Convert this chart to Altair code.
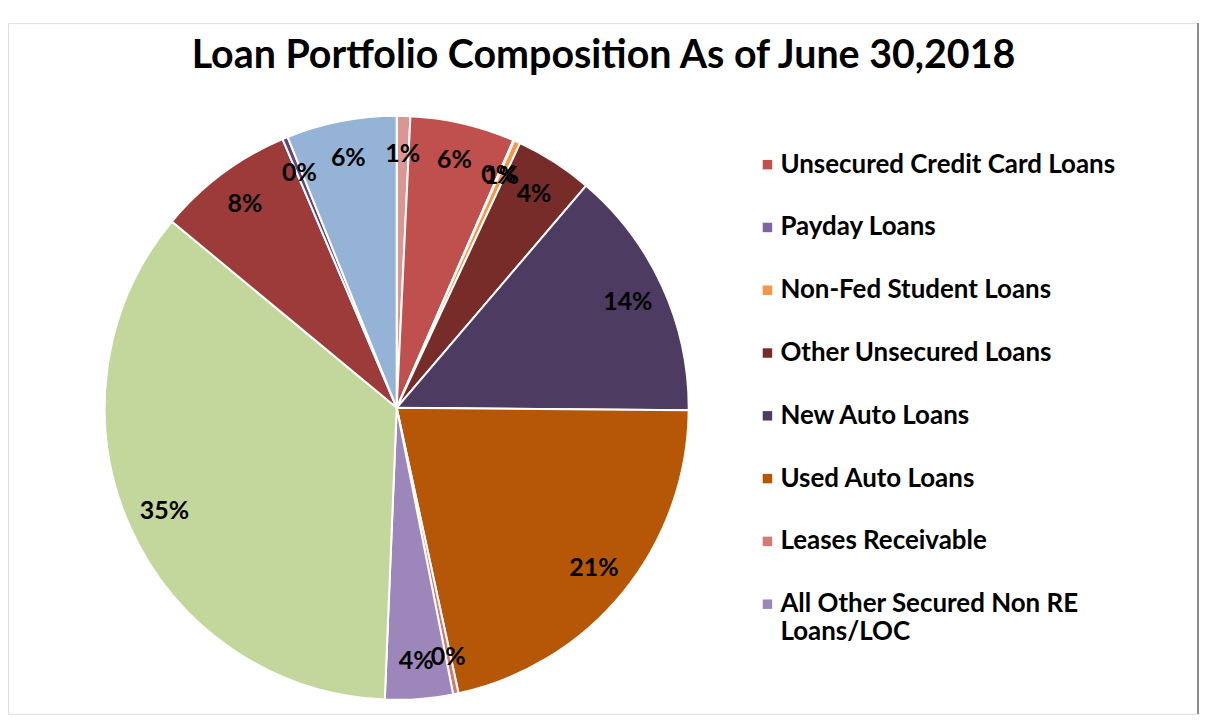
import altair as alt
import pandas as pd

# Slices, clockwise from 12 o'clock
categories = [
    "Commercial Non RE Loans/LOC",
    "Unsecured Credit Card Loans",
    "Payday Loans",
    "Non-Fed Student Loans",
    "Other Unsecured Loans",
    "New Auto Loans",
    "Used Auto Loans",
    "Leases Receivable",
    "All Other Secured Non RE Loans/LOC",
    "1st Mortgage RE Loans/LOC",
    "Other RE Loans/LOC",
    "Other Non-Commercial RE Loans",
    "Commercial RE Loans/LOC",
]
shares = [0.75, 5.8, 0.05, 0.35, 4.3, 13.9, 21.5, 0.3, 3.75, 35.4, 7.6, 0.3, 6.1]
pct_labels = ["1%", "6%", "0%", "1%", "4%", "14%", "21%", "0%", "4%", "35%", "8%", "0%", "6%"]
colors = [
    "#D99694", "#C0504D", "#8064A2", "#F79646", "#772C2A", "#4D3B62",
    "#B65708", "#D27A77", "#9D87BA", "#C3D69B", "#9C3B39", "#60497A", "#95B3D7",
]
legend_shown = categories[1:9]

df = pd.DataFrame({
    "category": categories,
    "share": shares,
    "label": pct_labels,
    "idx": list(range(len(categories))),
})

CX, CY, R = 390, 386, 293
FONT = "Lato"

color = alt.Color(
    "category:N",
    scale=alt.Scale(domain=categories, range=colors),
    legend=alt.Legend(
        values=legend_shown,
        title=None,
        orient="none",
        legendX=749,
        legendY=129,
        padding=0,
        symbolType="square",
        symbolSize=90,
        symbolStrokeWidth=0,
        labelFont=FONT,
        labelFontSize=26,
        labelFontWeight="bold",
        labelColor="black",
        labelOffset=0,
        labelLimit=500,
        rowPadding=37,
        labelExpr="datum.label == 'All Other Secured Non RE Loans/LOC' ? ['All Other Secured Non RE', 'Loans/LOC'] : datum.label",
    ),
)

base = alt.Chart(df).encode(
    theta=alt.Theta("share:Q", stack=True),
    order=alt.Order("idx:Q"),
)

pie = base.mark_arc(radius=R, x=CX, y=CY, stroke="white", strokeWidth=2).encode(color=color)

text = base.mark_text(
    radius=255, x=CX, y=CY, font=FONT, fontSize=25, fontWeight="bold", color="black"
).encode(text="label:N", detail="category:N")

edge = alt.Chart(df).mark_rule(color="#8c8c8c", strokeWidth=2).encode(
    x=alt.value(1194), y=alt.value(0), y2=alt.value(693)
)

chart = (
    alt.layer(pie, text, edge)
    .properties(
        width=1195,
        height=693,
        autosize=alt.AutoSizeParams(type="none"),
        padding={"left": 0, "top": 14, "right": 0, "bottom": 0},
        title=alt.Title(
            "Loan Portfolio Composition As of June 30,2018",
            font=FONT,
            fontSize=39.5,
            fontWeight="bold",
            color="black",
            anchor="middle",
            offset=0,
            dy=55,
        ),
    )
    .configure_view(stroke="#D9D9D9", strokeWidth=1)
    .configure(background="white")
)

chart.save("out.html", embed_options={"renderer": "svg", "actions": False})
